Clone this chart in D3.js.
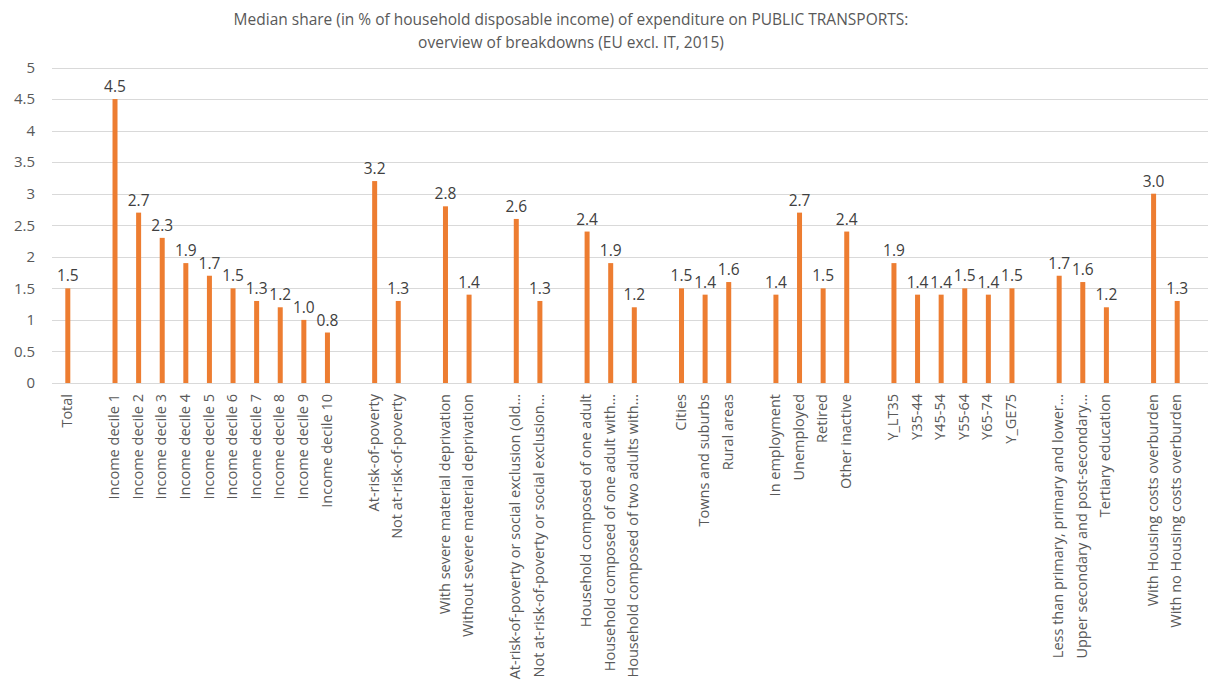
<!DOCTYPE html>
<html>
<head>
    <meta charset="utf-8">
    <script src="https://d3js.org/d3.v7.min.js"></script>
    <style>
        body { margin: 0; background: #fff; }
        text { font-family: "Open Sans", "Noto Sans", sans-serif; }
    </style>
</head>
<body>
    <svg id="mysvg" width="1208" height="686"></svg>
    <script>
        // categories, "" = empty slot between groups
        var categories = [
            "Total", "",
            "Income decile 1", "Income decile 2", "Income decile 3", "Income decile 4", "Income decile 5",
            "Income decile 6", "Income decile 7", "Income decile 8", "Income decile 9", "Income decile 10", "",
            "At-risk-of-poverty", "Not at-risk-of-poverty", "",
            "With severe material deprivation", "Without severe material deprivation", "",
            "At-risk-of-poverty or social exclusion (old…", "Not at-risk-of-poverty or social exclusion…", "",
            "Household composed of one adult", "Household composed of one adult with…", "Household composed of two adults with…", "",
            "Cities", "Towns and suburbs", "Rural areas", "",
            "In employment", "Unemployed", "Retired", "Other inactive", "",
            "Y_LT35", "Y35-44", "Y45-54", "Y55-64", "Y65-74", "Y_GE75", "",
            "Less than primary, primary and lower…", "Upper secondary and post-secondary…", "Tertiary education", "",
            "With Housing costs overburden", "With no Housing costs overburden"
        ];
        var values = [
            1.5, null,
            4.5, 2.7, 2.3, 1.9, 1.7, 1.5, 1.3, 1.2, 1.0, 0.8, null,
            3.2, 1.3, null,
            2.8, 1.4, null,
            2.6, 1.3, null,
            2.4, 1.9, 1.2, null,
            1.5, 1.4, 1.6, null,
            1.4, 2.7, 1.5, 2.4, null,
            1.9, 1.4, 1.4, 1.5, 1.4, 1.5, null,
            1.7, 1.6, 1.2, null,
            3.0, 1.3
        ];
        var yTicks = [0, 0.5, 1, 1.5, 2, 2.5, 3, 3.5, 4, 4.5, 5];
        var titleLines = [
            "Median share (in % of household disposable income) of expenditure on PUBLIC TRANSPORTS:",
            "overview of breakdowns (EU excl. IT, 2015)"
        ];

        var svg = d3.select("svg");
        var dataset = categories.map((c, i) => ({ i: i, name: c, value: values[i] }));

        var xScale = d3.scaleBand()
            .domain(dataset.map(d => d.i))
            .range([56, 1189]);

        var yScale = d3.scaleLinear()
            .domain([0, 5])
            .range([383, 67.5]);

        // title
        svg.append("g").selectAll("text")
            .data(titleLines)
            .enter()
            .append("text")
            .attr("x", 571)
            .attr("y", (d, i) => 25 + i * 23)
            .attr("text-anchor", "middle")
            .attr("fill", "#595959")
            .style("font-size", "15.5px")
            .text(d => d);

        // gridlines
        svg.append("g").selectAll("line")
            .data(yTicks)
            .enter()
            .append("line")
            .attr("x1", 52)
            .attr("x2", 1208)
            .attr("y1", d => Math.round(yScale(d)) + 0.5)
            .attr("y2", d => Math.round(yScale(d)) + 0.5)
            .attr("stroke", "#d9d9d9")
            .attr("stroke-width", 1);

        // y axis labels
        var yAxis = d3.axisLeft(yScale)
            .tickValues(yTicks)
            .tickSize(0)
            .tickPadding(0)
            .tickFormat(d3.format("~g"));
        var yg = svg.append("g")
            .attr("transform", "translate(35,0)")
            .call(yAxis);
        yg.select(".domain").remove();
        yg.selectAll("text")
            .attr("fill", "#595959")
            .style("font-size", "15px")
            .style("font-family", "'Open Sans', sans-serif");

        // bars
        var bars = dataset.filter(d => d.value != null);
        var bw = 5;
        svg.append("g").selectAll("rect")
            .data(bars)
            .enter()
            .append("rect")
            .attr("x", d => xScale(d.i) + xScale.bandwidth() / 2 - bw / 2)
            .attr("y", d => yScale(d.value))
            .attr("width", bw)
            .attr("height", d => yScale(0) - yScale(d.value))
            .attr("fill", "#ed7d31");

        // value labels
        svg.append("g").selectAll("text")
            .data(bars)
            .enter()
            .append("text")
            .attr("x", d => xScale(d.i) + xScale.bandwidth() / 2)
            .attr("y", d => yScale(d.value) - 7)
            .attr("text-anchor", "middle")
            .attr("fill", "#404040")
            .style("font-size", "15.5px")
            .text(d => d3.format(".1f")(d.value));

        // x axis
        var xAxis = d3.axisBottom(xScale)
            .tickSize(0)
            .tickPadding(0)
            .tickFormat(i => categories[i]);
        var xg = svg.append("g")
            .attr("transform", "translate(0,383)")
            .call(xAxis);
        xg.select(".domain").remove();
        xg.selectAll("text")
            .attr("transform", "translate(-1,11) rotate(-90)")
            .attr("x", 0)
            .attr("y", 0)
            .attr("dy", "0.35em")
            .attr("text-anchor", "end")
            .attr("fill", "#595959")
            .style("font-size", "14.5px")
            .style("font-family", "'Open Sans', sans-serif");
    </script>
</body>
</html>
